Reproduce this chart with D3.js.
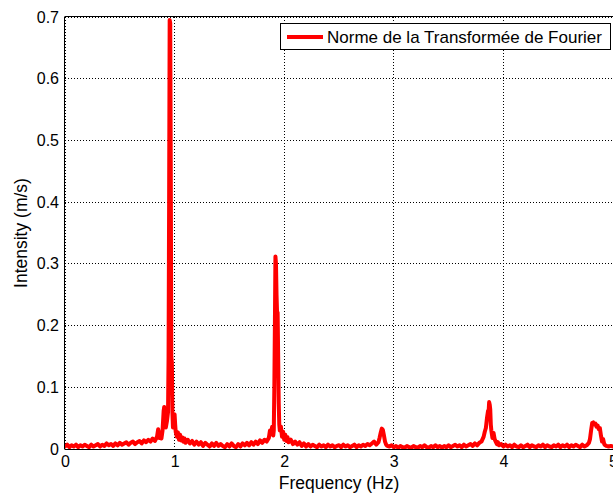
<!DOCTYPE html>
<html>
<head>
<meta charset="utf-8">
<script src="https://cdn.jsdelivr.net/npm/d3@7"></script>
<style>
html,body{margin:0;padding:0;background:#fff;overflow:hidden;}
text{font-family:"Liberation Sans",Arial,sans-serif;fill:#000;}
</style>
</head>
<body>
<svg id="chart" width="613" height="494"></svg>
<script>
// Frequency (Hz)
const freq = [
 0.00,0.02,0.04,0.06,0.08,0.10,0.12,0.14,0.16,0.18,0.20,0.22,0.24,0.26,0.28,0.30,0.32,0.34,0.36,0.38,
 0.40,0.42,0.44,0.46,0.48,0.50,0.52,0.54,0.56,0.58,0.60,0.62,0.64,0.66,0.68,0.70,0.72,0.74,0.76,0.78,
 0.80,0.82,0.84,0.85,0.86,0.87,0.88,0.89,0.90,0.905,0.91,0.92,0.93,0.94,0.945,0.95,0.955,0.96,0.965,0.97,
 0.975,0.98,0.985,0.99,1.00,1.005,1.01,1.02,1.03,1.04,1.05,1.06,1.07,1.08,1.09,1.10,1.12,1.14,1.16,1.18,
 1.20,1.22,1.24,1.26,1.28,1.30,1.32,1.34,1.36,1.38,1.40,1.42,1.44,1.46,1.48,1.50,1.52,1.54,1.56,1.58,
 1.60,1.62,1.64,1.66,1.68,1.70,1.72,1.74,1.76,1.78,1.80,1.82,1.84,1.86,1.87,1.88,1.89,1.90,1.905,1.91,
 1.915,1.92,1.925,1.93,1.935,1.94,1.945,1.95,1.955,1.96,1.97,1.98,1.99,2.00,2.01,2.02,2.03,2.04,2.06,2.08,
 2.10,2.12,2.14,2.16,2.18,2.20,2.22,2.24,2.26,2.28,2.30,2.32,2.34,2.36,2.38,2.40,2.42,2.44,2.46,2.48,
 2.50,2.52,2.54,2.56,2.58,2.60,2.62,2.64,2.66,2.68,2.70,2.72,2.74,2.76,2.78,2.80,2.82,2.84,2.86,2.87,
 2.88,2.89,2.90,2.91,2.92,2.93,2.94,2.96,2.98,3.00,3.02,3.04,3.06,3.08,3.10,3.12,3.14,3.16,3.18,3.20,
 3.22,3.24,3.26,3.28,3.30,3.32,3.34,3.36,3.38,3.40,3.42,3.44,3.46,3.48,3.50,3.52,3.54,3.56,3.58,3.60,
 3.62,3.64,3.66,3.68,3.70,3.72,3.74,3.76,3.78,3.80,3.81,3.82,3.83,3.84,3.85,3.86,3.865,3.87,3.875,3.88,
 3.885,3.89,3.895,3.90,3.91,3.92,3.93,3.94,3.95,3.96,3.98,4.00,4.02,4.04,4.06,4.08,4.10,4.12,4.14,4.16,
 4.18,4.20,4.22,4.24,4.26,4.28,4.30,4.32,4.34,4.36,4.38,4.40,4.42,4.44,4.46,4.48,4.50,4.52,4.54,4.56,
 4.58,4.60,4.62,4.64,4.66,4.68,4.70,4.72,4.74,4.76,4.78,4.79,4.80,4.81,4.82,4.83,4.84,4.85,4.86,4.87,
 4.88,4.89,4.90,4.91,4.92,4.93,4.94,4.96,4.98,5.00
];
// Intensity (m/s)
const intensity = [
 0.004,0.007,0.003,0.006,0.004,0.007,0.003,0.006,0.004,0.007,0.005,0.003,0.007,0.004,0.006,0.008,0.004,0.007,0.005,0.009,
 0.006,0.008,0.005,0.009,0.006,0.010,0.007,0.009,0.011,0.007,0.010,0.012,0.008,0.011,0.013,0.009,0.014,0.011,0.015,0.012,
 0.017,0.013,0.020,0.032,0.018,0.024,0.017,0.030,0.062,0.068,0.050,0.035,0.045,0.060,0.150,0.400,0.695,0.690,0.450,0.150,
 0.140,0.060,0.035,0.052,0.056,0.040,0.028,0.020,0.027,0.015,0.023,0.014,0.019,0.012,0.017,0.010,0.015,0.009,0.013,0.007,
 0.012,0.007,0.011,0.005,0.010,0.007,0.004,0.009,0.005,0.010,0.005,0.008,0.005,0.003,0.008,0.004,0.009,0.005,0.003,0.008,
 0.004,0.009,0.006,0.010,0.006,0.011,0.007,0.012,0.008,0.014,0.010,0.015,0.012,0.018,0.030,0.024,0.036,0.022,0.030,0.100,
 0.200,0.312,0.300,0.250,0.220,0.221,0.150,0.075,0.040,0.030,0.036,0.020,0.028,0.015,0.023,0.013,0.019,0.011,0.015,0.008,
 0.012,0.007,0.011,0.005,0.009,0.004,0.008,0.004,0.007,0.005,0.003,0.007,0.004,0.006,0.003,0.007,0.004,0.006,0.003,0.005,
 0.006,0.003,0.007,0.004,0.006,0.003,0.005,0.007,0.003,0.006,0.004,0.007,0.005,0.008,0.006,0.009,0.012,0.007,0.011,0.018,
 0.026,0.033,0.031,0.022,0.012,0.007,0.005,0.004,0.006,0.003,0.005,0.002,0.005,0.003,0.002,0.005,0.003,0.002,0.005,0.003,
 0.002,0.005,0.003,0.006,0.003,0.002,0.005,0.003,0.006,0.003,0.005,0.002,0.005,0.003,0.006,0.003,0.005,0.007,0.004,0.006,
 0.003,0.007,0.004,0.006,0.008,0.005,0.009,0.006,0.010,0.012,0.016,0.020,0.028,0.034,0.050,0.062,0.060,0.076,0.072,0.064,
 0.040,0.030,0.024,0.018,0.026,0.016,0.012,0.008,0.011,0.006,0.008,0.004,0.007,0.004,0.006,0.003,0.007,0.004,0.003,0.006,
 0.003,0.005,0.007,0.003,0.006,0.004,0.003,0.006,0.004,0.007,0.003,0.006,0.004,0.003,0.006,0.004,0.007,0.003,0.006,0.004,
 0.007,0.003,0.006,0.004,0.007,0.005,0.003,0.007,0.004,0.006,0.010,0.016,0.030,0.042,0.043,0.040,0.041,0.036,0.038,0.032,
 0.034,0.022,0.012,0.016,0.008,0.006,0.005,0.004,0.005,0.004
];
const xTicks = [0,1,2,3,4,5];
const yTicks = [0,0.1,0.2,0.3,0.4,0.5,0.6,0.7];
const xTitle = "Frequency (Hz)";
const yTitle = "Intensity (m/s)";
const seriesName = "Norme de la Transformée de Fourier";

const svg = d3.select("#chart");
const L = 65, T = 17, B = 449, R = 613;
const x = d3.scaleLinear().domain([0,5]).range([L,R]);
const y = d3.scaleLinear().domain([0,0.7]).range([B,T]);

// grid
const grid = svg.append("g");
grid.selectAll(".gx").data(xTicks).enter().append("line")
  .attr("x1",d=>x(d)).attr("x2",d=>x(d)).attr("y1",T).attr("y2",B)
  .attr("stroke","#000").attr("stroke-width",1).attr("stroke-dasharray","1,2").attr("shape-rendering","crispEdges");
grid.selectAll(".gy").data(yTicks).enter().append("line")
  .attr("x1",L).attr("x2",R).attr("y1",d=>y(d)).attr("y2",d=>y(d))
  .attr("stroke","#000").attr("stroke-width",1).attr("stroke-dasharray","1,2").attr("shape-rendering","crispEdges");

// clip
svg.append("clipPath").attr("id","clip").append("rect")
  .attr("x",L).attr("y",T-3).attr("width",R-L).attr("height",B-T+6);

const data = freq.map((f,i)=>[f,intensity[i]]);
svg.append("path").datum(data)
  .attr("clip-path","url(#clip)")
  .attr("fill","none").attr("stroke","#ff0000").attr("stroke-width",4)
  .attr("stroke-linejoin","round").attr("stroke-linecap","round")
  .attr("d",d3.line().x(d=>x(d[0])).y(d=>y(d[1])));

// axes
const xAxis = d3.axisBottom(x).tickValues(xTicks).tickSize(0).tickPadding(7).tickFormat(d3.format("d"));
const gx = svg.append("g").attr("transform",`translate(0,${B})`).call(xAxis);
gx.select(".domain").remove();
gx.selectAll("text").attr("font-size","16px").attr("font-family","Liberation Sans, Arial, sans-serif").attr("fill","#000");

const yAxis = d3.axisLeft(y).tickValues(yTicks).tickSize(0).tickPadding(6).tickFormat(d=>d===0?"0":d3.format(".1f")(d));
const gy = svg.append("g").attr("transform",`translate(${L},0)`).call(yAxis);
gy.select(".domain").remove();
gy.selectAll("text").attr("font-size","16px").attr("font-family","Liberation Sans, Arial, sans-serif").attr("fill","#000");

// box
svg.append("line").attr("x1",L).attr("x2",R).attr("y1",B+0.5).attr("y2",B+0.5).attr("stroke","#000");
svg.append("line").attr("x1",L).attr("x2",R).attr("y1",T-0.5).attr("y2",T-0.5).attr("stroke","#000");
svg.append("line").attr("x1",L-0.5).attr("x2",L-0.5).attr("y1",T-0.5).attr("y2",B+0.5).attr("stroke","#000");

// titles
svg.append("text").attr("x",(L+R)/2).attr("y",489).attr("text-anchor","middle")
  .attr("font-size","17.5px").text(xTitle);
svg.append("text").attr("transform",`translate(27,${(T+B)/2}) rotate(-90)`).attr("text-anchor","middle")
  .attr("font-size","17.5px").text(yTitle);

// legend
const lg = svg.append("g");
lg.append("rect").attr("x",280.5).attr("y",23.5).attr("width",330).attr("height",26)
  .attr("fill","#fff").attr("stroke","#000").attr("stroke-width",1);
lg.append("line").attr("x1",287).attr("x2",323).attr("y1",37).attr("y2",37)
  .attr("stroke","#ff0000").attr("stroke-width",4);
lg.append("text").attr("x",327).attr("y",43).attr("font-size","17px").text(seriesName);
</script>
</body>
</html>
